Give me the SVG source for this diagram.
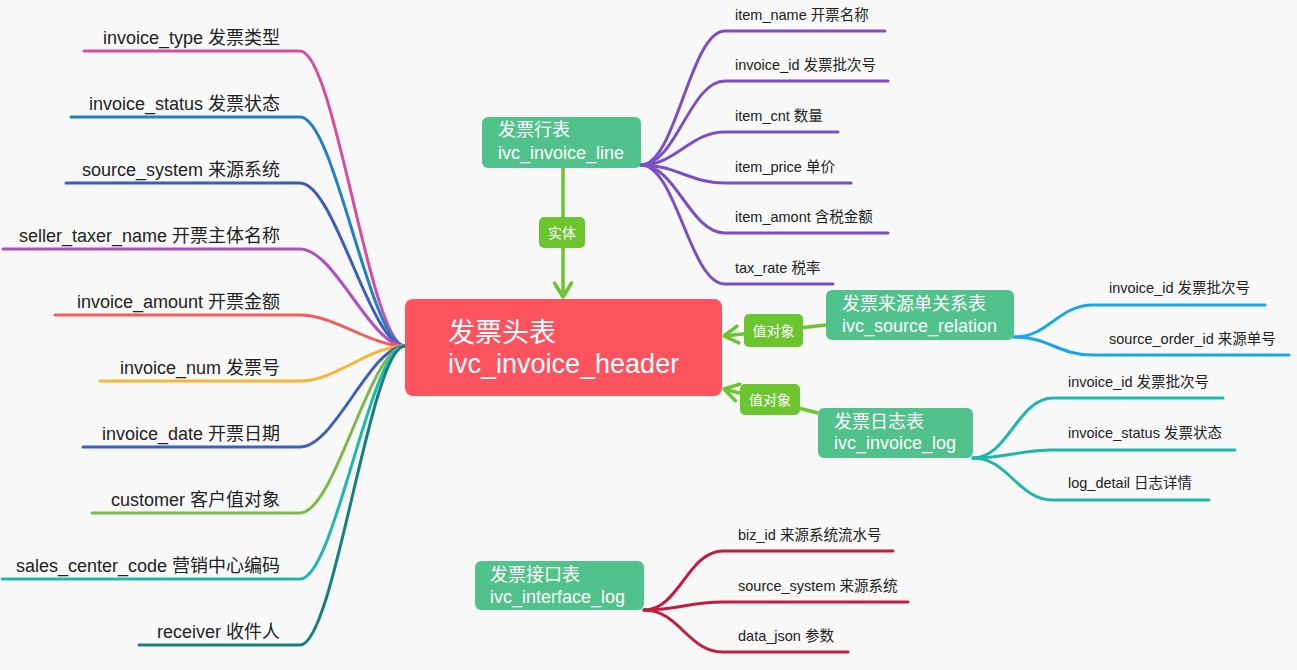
<svg xmlns="http://www.w3.org/2000/svg" width="1297" height="670" viewBox="0 0 1297 670">
<style>
  .bg { fill: #f8f8f8; }
  .br { fill: none; stroke-width: 3; stroke-linecap: round; stroke-linejoin: round; }
  .lt { font-family: "Liberation Sans", "Noto Sans CJK SC", sans-serif; font-size: 18px; fill: #222; text-anchor: end; }
  .rt { font-family: "Liberation Sans", "Noto Sans CJK SC", sans-serif; font-size: 14.5px; fill: #222; }
  .box { fill: #51c28b; }
  .bt { font-family: "Liberation Sans", "Noto Sans CJK SC", sans-serif; font-size: 18px; fill: #ffffff; }
  .ht { font-family: "Liberation Sans", "Noto Sans CJK SC", sans-serif; font-size: 27px; fill: #ffffff; }
  .rel { fill: none; stroke: #6cc52f; stroke-width: 3.5; }
  .lbl { fill: #6cc52f; }
  .lbt { font-family: "Liberation Sans", "Noto Sans CJK SC", sans-serif; font-size: 14px; fill: #ffffff; text-anchor: middle; }
</style>
<defs>
  <marker id="chev" markerUnits="userSpaceOnUse" markerWidth="24" markerHeight="24" viewBox="-20 -12 24 24" refX="0" refY="0" orient="auto">
    <path d="M-14,-8.5 L0,0 L-14,8.5" fill="none" stroke="#6cc52f" stroke-width="3.5" stroke-linecap="round" stroke-linejoin="round"/>
  </marker>
</defs>
<rect class="bg" x="0" y="0" width="1297" height="670"/>

<g id="connectors">
  <!-- left branches -->
  <path class="br" stroke="#d84b9e" d="M405,346 C370,346 335,51 300,51 L84,51"/>
  <path class="br" stroke="#1e80c8" d="M405,346 C370,346 335,117 300,117 L71,117"/>
  <path class="br" stroke="#3d5bbd" d="M405,346 C370,346 335,183 300,183 L66,183"/>
  <path class="br" stroke="#ae4fc6" d="M405,346 C370,346 335,249 300,249 L3,249"/>
  <path class="br" stroke="#f55a5a" d="M405,346 C370,346 335,315 300,315 L55,315"/>
  <path class="br" stroke="#f7b334" d="M405,346 C370,346 335,381 300,381 L100,381"/>
  <path class="br" stroke="#3e5ec2" d="M405,346 C370,346 335,447 300,447 L83,447"/>
  <path class="br" stroke="#7db84a" d="M405,346 C370,346 335,513 300,513 L92,513"/>
  <path class="br" stroke="#1fb9ab" d="M405,346 C370,346 335,579 300,579 L2,579"/>
  <path class="br" stroke="#157f80" d="M405,346 C370,346 335,645 300,645 L139,645"/>

  <!-- invoice line children -->
  <path class="br" stroke="#7a4fc6" d="M641,165 C676,165 690,31 725,31 L885,31"/>
  <path class="br" stroke="#7a4fc6" d="M641,165 C676,165 690,81 725,81 L888,81"/>
  <path class="br" stroke="#7a4fc6" d="M641,165 C676,165 690,132 725,132 L838,132"/>
  <path class="br" stroke="#7a4fc6" d="M641,165 C676,165 690,183 725,183 L851,183"/>
  <path class="br" stroke="#7a4fc6" d="M641,165 C676,165 690,233 725,233 L888,233"/>
  <path class="br" stroke="#7a4fc6" d="M641,165 C676,165 690,284 725,284 L833,284"/>

  <!-- source relation children -->
  <path class="br" stroke="#16a6ef" d="M1014,337 C1049,337 1058,305 1093,305 L1265,305"/>
  <path class="br" stroke="#16a6ef" d="M1014,337 C1049,337 1058,355 1093,355 L1289,355"/>

  <!-- invoice log children -->
  <path class="br" stroke="#1fb7a8" d="M973,458 C1008,458 1018,398 1053,398 L1223,398"/>
  <path class="br" stroke="#1fb7a8" d="M973,458 C1008,458 1018,450 1053,450 L1235,450"/>
  <path class="br" stroke="#1fb7a8" d="M973,458 C1008,458 1018,500 1053,500 L1209,500"/>

  <!-- interface log children -->
  <path class="br" stroke="#c41c3f" d="M644,610 C679,610 688,551 723,551 L893,551"/>
  <path class="br" stroke="#c41c3f" d="M644,610 C679,610 688,602 723,602 L908,602"/>
  <path class="br" stroke="#c41c3f" d="M644,610 C679,610 688,652 723,652 L848,652"/>

  <!-- relations -->
  <g id="rel-line">
    <path class="rel" d="M563,168 L563,297" marker-end="url(#chev)"/>
    <rect class="lbl" x="539" y="217" width="46" height="31" rx="5"/>
    <text class="lbt" x="562" y="238">实体</text>
  </g>
  <g id="rel-source">
    <path class="rel" d="M826,325 L724,336" marker-end="url(#chev)"/>
    <rect class="lbl" x="744" y="314" width="59" height="33" rx="5"/>
    <text class="lbt" x="773.5" y="336">值对象</text>
  </g>
  <g id="rel-log">
    <path class="rel" d="M818,413 L724,389" marker-end="url(#chev)"/>
    <rect class="lbl" x="740" y="384" width="60" height="31" rx="5"/>
    <text class="lbt" x="770" y="405">值对象</text>
  </g>
</g>

<g id="header">
  <rect x="405" y="299" width="317" height="97" rx="8" fill="#fd535f"/>
  <text class="ht" x="448" y="342">发票头表</text>
  <text class="ht" x="448" y="373">ivc_invoice_header</text>
</g>

<g id="invoice-line">
  <rect class="box" x="482" y="117" width="159" height="51" rx="6"/>
  <text class="bt" x="498" y="136">发票行表</text>
  <text class="bt" x="498" y="159">ivc_invoice_line</text>
</g>

<g id="source-relation">
  <rect class="box" x="826" y="290" width="188" height="50" rx="6"/>
  <text class="bt" x="842" y="310">发票来源单关系表</text>
  <text class="bt" x="842" y="332">ivc_source_relation</text>
</g>

<g id="invoice-log">
  <rect class="box" x="818" y="408" width="155" height="50" rx="6"/>
  <text class="bt" x="834" y="428">发票日志表</text>
  <text class="bt" x="834" y="449">ivc_invoice_log</text>
</g>

<g id="interface-log">
  <rect class="box" x="475" y="561" width="169" height="49" rx="6"/>
  <text class="bt" x="490" y="581">发票接口表</text>
  <text class="bt" x="490" y="603">ivc_interface_log</text>
</g>

<g id="h-invoice_type"><text class="lt" x="280" y="44">invoice_type 发票类型</text></g>
<g id="h-invoice_status"><text class="lt" x="280" y="110">invoice_status 发票状态</text></g>
<g id="h-source_system"><text class="lt" x="280" y="176">source_system 来源系统</text></g>
<g id="h-seller_taxer_name"><text class="lt" x="280" y="242">seller_taxer_name 开票主体名称</text></g>
<g id="h-invoice_amount"><text class="lt" x="280" y="308">invoice_amount 开票金额</text></g>
<g id="h-invoice_num"><text class="lt" x="280" y="374">invoice_num 发票号</text></g>
<g id="h-invoice_date"><text class="lt" x="280" y="440">invoice_date 开票日期</text></g>
<g id="h-customer"><text class="lt" x="280" y="506">customer 客户值对象</text></g>
<g id="h-sales_center_code"><text class="lt" x="280" y="572">sales_center_code 营销中心编码</text></g>
<g id="h-receiver"><text class="lt" x="280" y="638">receiver 收件人</text></g>

<g id="l-item_name"><text class="rt" x="735" y="20">item_name 开票名称</text></g>
<g id="l-invoice_id"><text class="rt" x="735" y="70">invoice_id 发票批次号</text></g>
<g id="l-item_cnt"><text class="rt" x="735" y="121">item_cnt 数量</text></g>
<g id="l-item_price"><text class="rt" x="735" y="172">item_price 单价</text></g>
<g id="l-item_amont"><text class="rt" x="735" y="222">item_amont 含税金额</text></g>
<g id="l-tax_rate"><text class="rt" x="735" y="273">tax_rate 税率</text></g>

<g id="s-invoice_id"><text class="rt" x="1109" y="293">invoice_id 发票批次号</text></g>
<g id="s-source_order_id"><text class="rt" x="1109" y="344">source_order_id 来源单号</text></g>

<g id="g-invoice_id"><text class="rt" x="1068" y="387">invoice_id 发票批次号</text></g>
<g id="g-invoice_status"><text class="rt" x="1068" y="438">invoice_status 发票状态</text></g>
<g id="g-log_detail"><text class="rt" x="1068" y="488">log_detail 日志详情</text></g>

<g id="i-biz_id"><text class="rt" x="738" y="540">biz_id 来源系统流水号</text></g>
<g id="i-source_system"><text class="rt" x="738" y="591">source_system 来源系统</text></g>
<g id="i-data_json"><text class="rt" x="738" y="641">data_json 参数</text></g>
</svg>
